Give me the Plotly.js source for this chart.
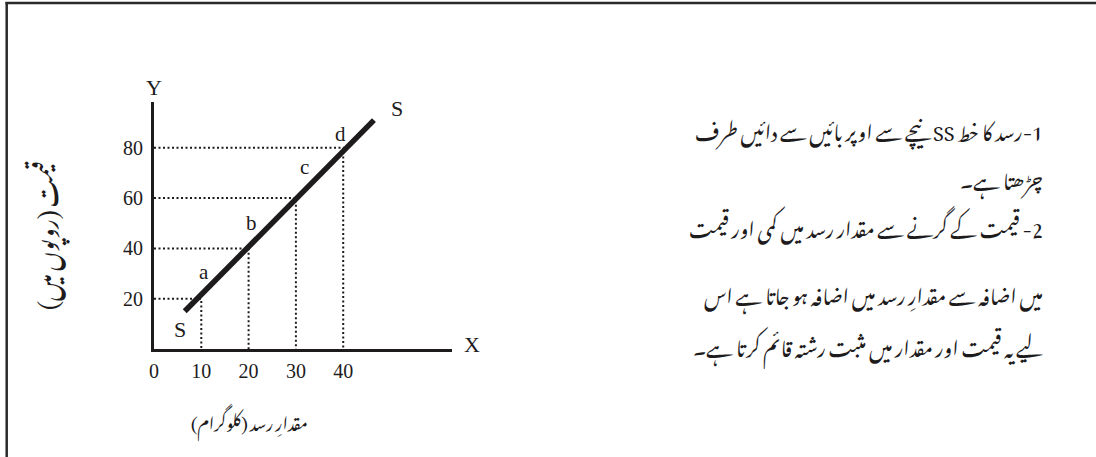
<!DOCTYPE html>
<html>
<head>
<meta charset="utf-8">
<script src="https://cdn.plot.ly/plotly-3.0.1.min.js"></script>
<style>html,body{margin:0;padding:0;background:#fff;}#chart{width:1096px;height:457px;}</style>
</head>
<body>
<div id="chart"></div>
<script>
// ---- data ----
const quantity = [10, 20, 30, 40];          // kg
const price = [20, 40, 60, 80];             // rupees
const pointLabels = ['a', 'b', 'c', 'd'];
const supplyX = [6.5, 46.5];
const supplyY = [15, 91];
const xTickVals = [0, 10, 20, 30, 40];
const xTickText = ['0', '10', '20', '30', '40'];
const yTickVals = [20, 40, 60, 80];
const yTickText = ['20', '40', '60', '80'];
const yTitle = 'قیمت (روپوں میں)';
const xTitle = 'مقدارِ رسد (کلوگرام)';
const noteLines = [
  '1-رسد کا خط SS نیچے سے اوپر بائیں سے دائیں طرف',
  'چڑھتا ہے۔',
  '2- قیمت کے گرنے سے مقدار رسد میں کمی اور قیمت',
  'میں اضافہ سے مقدارِ رسد میں اضافہ ہو جاتا ہے اس',
  'لیے یہ قیمت اور مقدار میں مثبت رشتہ قائم کرتا ہے۔'
];

// ---- layout helpers ----
const W = 1096, H = 457;
const M = {l: 154, r: 644, t: 102, b: 108};
const PW = W - M.l - M.r, PH = H - M.t - M.b;
const px = p => (p - M.l) / PW;
const py = q => (H - M.b - q) / PH;
const RTL = s => '\u202B' + s + '\u202C';
const INK = '#1d1b1c';
const serif = 'Liberation Serif, Times New Roman, serif';
const urdu = 'Noto Nastaliq Urdu, Noto Naskh Arabic, Noto Sans Arabic, DejaVu Sans, sans-serif';

// dotted guide lines built from the points
const gx = [], gy = [];
quantity.forEach((q, i) => {
  gx.push(0, q, q, null);
  gy.push(price[i], price[i], 0, null);
});

const traces = [
  {x: gx, y: gy, mode: 'lines', line: {color: INK, width: 2, dash: '2px,2.5px'}, hoverinfo: 'skip'},
  {x: supplyX, y: supplyY, mode: 'lines', line: {color: INK, width: 5.5}, hoverinfo: 'skip'}
];

const labelShift = [[3, -27], [3, -25], [9, -31], [-3, -14]];
const annotations = [];
pointLabels.forEach((t, i) => {
  annotations.push({x: quantity[i], y: price[i], xref: 'x', yref: 'y', text: t, showarrow: false,
    xanchor: 'center', yanchor: 'middle',
    xshift: labelShift[i][0], yshift: -labelShift[i][1], font: {family: serif, size: 21, color: INK}});
});
const P = (x, y) => ({x: px(x), y: py(y), xref: 'paper', yref: 'paper', xanchor: 'center', yanchor: 'middle', showarrow: false});
annotations.push(
  {x: supplyX[0], y: supplyY[0], text: 'S', showarrow: false, xanchor: 'center', yanchor: 'middle', xshift: -5, yshift: -18, font: {family: serif, size: 22, color: INK}},
  {x: supplyX[1], y: supplyY[1], text: 'S', showarrow: false, xanchor: 'center', yanchor: 'middle', xshift: 23, yshift: 12, font: {family: serif, size: 22, color: INK}},
  Object.assign(P(154, 88), {text: 'Y', font: {family: serif, size: 22, color: INK}}),
  Object.assign(P(472, 344), {text: 'X', font: {family: serif, size: 22, color: INK}}),
  Object.assign(P(43, 236), {text: RTL(yTitle), textangle: -90, font: {family: urdu, size: 23, color: INK}}),
  Object.assign(P(249, 420), {text: RTL(xTitle), font: {family: urdu, size: 17, color: INK}})
);
const lineY = [128, 177, 225, 292, 344];
noteLines.forEach((s, i) => {
  annotations.push({x: px(1045), y: py(lineY[i]), xref: 'paper', yref: 'paper', xanchor: 'right', yanchor: 'middle',
    text: RTL(s), showarrow: false, font: {family: urdu, size: 20, color: INK}});
});

const shapes = [
  {type: 'line', xref: 'paper', yref: 'paper', x0: px(5.5), x1: px(1100), y0: py(3), y1: py(3), line: {color: '#2a2a2a', width: 2.5}},
  {type: 'line', xref: 'paper', yref: 'paper', x0: px(6.7), x1: px(6.7), y0: py(2), y1: py(460), line: {color: '#2a2a2a', width: 2.5}}
];

const axisCommon = {showgrid: false, zeroline: false, showline: true, linewidth: 3, linecolor: INK,
  ticks: '', tickfont: {family: serif, size: 20, color: INK}, fixedrange: true};

const layout = {
  width: W, height: H, margin: M, showlegend: false,
  paper_bgcolor: '#ffffff', plot_bgcolor: '#ffffff',
  xaxis: Object.assign({}, axisCommon, {range: [0, 63], tickmode: 'array', tickvals: xTickVals, ticktext: xTickText, ticklabelstandoff: 2}),
  yaxis: Object.assign({}, axisCommon, {range: [0, 98.2], tickmode: 'array', tickvals: yTickVals, ticktext: yTickText, ticklabelstandoff: 4}),
  annotations: annotations, shapes: shapes
};

Plotly.newPlot('chart', traces, layout, {staticPlot: true, displayModeBar: false});
</script>
</body>
</html>
